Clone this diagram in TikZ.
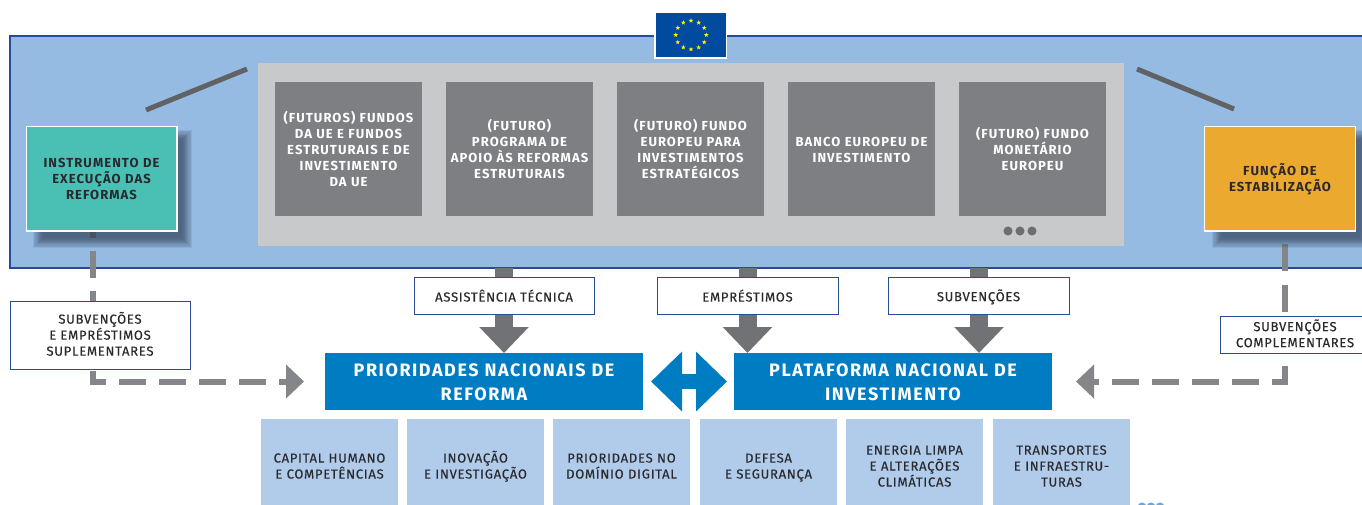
\documentclass[tikz,border=0pt]{standalone}
\usepackage{fontspec}
\usetikzlibrary{arrows.meta,shapes.geometric}
\newfontfamily\medfont[LetterSpace=5.5,FakeBold=0.3]{Fira Sans}
\newfontfamily\boldfont[LetterSpace=8]{Fira Sans Bold}
\newfontfamily\headfont[LetterSpace=8.6]{Fira Sans Bold}
\newcommand\capstrut{\rule[-2.6pt]{0pt}{12pt}}
\newcommand\lowstrut{\rule[-1.85pt]{0pt}{12pt}}
\newcommand\headstrut{\rule[-3.6pt]{0pt}{18pt}}
\definecolor{euborder}{HTML}{2C4A9A}
\definecolor{eufill}{HTML}{95BBE3}
\definecolor{panel}{HTML}{C8C9CB}
\definecolor{fundgrey}{HTML}{7E7F83}
\definecolor{dotgrey}{HTML}{6D6E71}
\definecolor{slash}{HTML}{616264}
\definecolor{teal}{HTML}{4ABFB4}
\definecolor{amber}{HTML}{EBA92F}
\definecolor{dashgrey}{HTML}{858689}
\definecolor{stemgrey}{HTML}{717276}
\definecolor{prio}{HTML}{007CC3}
\definecolor{lightblue}{HTML}{B1CCEA}
\definecolor{inktext}{HTML}{2A2A2E}
\definecolor{flagblue}{HTML}{004B9E}
\definecolor{shadowc}{HTML}{2E3C52}
\definecolor{moredots}{HTML}{6DA5DC}
\tikzset{
  basebox/.style={inner sep=0pt,outer sep=0pt,align=center},
  capped/.style={execute at begin node={\capstrut},execute at end node={\capstrut}},
  lowered/.style={execute at begin node={\lowstrut},execute at end node={\lowstrut}},
  fundbox/.style={basebox,lowered,fill=fundgrey,text=white,minimum width=110.25pt,minimum height=100.5pt,text width=110pt,font=\boldfont\fontsize{9.8}{12}\selectfont},
  instr/.style={basebox,capped,draw=white,line width=1pt,minimum width=113pt,minimum height=78.5pt,text width=110pt,text=inktext,font=\boldfont\fontsize{9.8}{12}\selectfont},
  lab/.style={basebox,lowered,fill=white,draw=euborder,line width=0.65pt,text=inktext,font=\medfont\fontsize{9.8}{12}\selectfont},
  head/.style={basebox,fill=prio,text=white,minimum width=238.5pt,minimum height=42.75pt,text width=232pt,font=\headfont\fontsize{13.5}{18}\selectfont,execute at begin node={\headstrut},execute at end node={\headstrut}},
  prioritybox/.style={basebox,capped,fill=lightblue,text=inktext,minimum width=102.75pt,minimum height=70.5pt,text width=102pt,font=\medfont\fontsize{9.8}{12}\selectfont},
  bigarrow/.style={stemgrey,line width=13.5pt,-{Triangle[length=19.5pt,width=36pt]}},
  dashline/.style={dashgrey,line width=4.5pt},
  slashline/.style={slash,line width=3.75pt},
  dotfill/.style={circle,inner sep=0pt,outer sep=0pt,minimum size=6.8pt,fill=#1},
  staricon/.style={star,star points=5,star point ratio=2.4,inner sep=0pt,minimum size=3.7pt,fill=yellow},
  softshadow/.style={fill=shadowc,fill opacity=0.11}
}
\begin{document}
\begin{tikzpicture}[x=0.75pt,y=-0.75pt]
\useasboundingbox (0,0) rectangle (1362,504);
\clip (0,0) rectangle (1362,504);
\fill[white] (0,0) rectangle (1362,504);

% EU frame
\node[basebox,fill=eufill,draw=euborder,line width=1.5pt,minimum width=1020pt,minimum height=174pt] (eu) at (690,152) {};
\node[basebox,fill=white,minimum width=54.75pt,minimum height=36pt] (flagback) at (690.5,35) {};
\node[basebox,fill=flagblue,minimum width=52.5pt,minimum height=33pt] (flag) at (691,35) {};
\foreach \i in {0,...,11}
  \node[staricon] (star\i) at ({691+15.3*cos(\i*30)},{35+14.3*sin(\i*30)}) {};

% panel
\node[basebox,fill=panel,minimum width=649.5pt,minimum height=137.25pt] (panel) at (691,154.5) {};
\node[fundbox] (f1) at (348.5,149) {(FUTUROS) FUNDOS\\DA UE E FUNDOS\\ESTRUTURAIS E DE\\INVESTIMENTO\\DA UE};
\node[fundbox] (f2) at (519.5,149) {(FUTURO)\\PROGRAMA DE\\APOIO ÀS REFORMAS\\ESTRUTURAIS};
\node[fundbox] (f3) at (690.5,149) {(FUTURO) FUNDO\\EUROPEU PARA\\INVESTIMENTOS\\ESTRATÉGICOS};
\node[fundbox] (f4) at (861.5,149) {BANCO EUROPEU DE\\INVESTIMENTO};
\node[fundbox] (f5) at (1032.5,149) {(FUTURO) FUNDO\\MONETÁRIO\\EUROPEU};
\node[dotfill=dotgrey] (d1) at (1008,231) {};
\node[dotfill=dotgrey] (d2) at (1020,231) {};
\node[dotfill=dotgrey] (d3) at (1032,231) {};

% slanted strokes
\coordinate (sl1) at (146,110);
\coordinate (sl2) at (247,69);
\coordinate (sr1) at (1137,69);
\coordinate (sr2) at (1234,109);
\draw[slashline] (sl1) -- (sl2);
\draw[slashline] (sr1) -- (sr2);

% heads (placed early so connectors can name them)
\node[head] (prionode) at (484,381.5) {PRIORIDADES NACIONAIS DE\\REFORMA};
\node[head] (plat) at (893,381.5) {PLATAFORMA NACIONAL DE\\INVESTIMENTO};

% dashed connectors
\coordinate (ltop) at (93,231);
\coordinate (lcornerend) at (93,384);
\coordinate (lstart) at (90,381.5);
\coordinate (rtop) at (1285,231);
\coordinate (rcornerend) at (1285,384);
\coordinate (rstart) at (1288,381.5);
\draw[dashline,dash pattern=on 20.25pt off 9.75pt,dash phase=15pt] (ltop) -- (lcornerend);
\draw[dashline,dash pattern=on 12pt off 9.75pt on 20.25pt off 9.75pt on 20.25pt off 9.75pt on 20.25pt off 9.75pt on 20.25pt off 9.75pt on 20pt off 0pt,-{Triangle[length=13.5pt,width=24.75pt]},shorten >=15.75pt] (lstart) -- (prionode.west);
\draw[dashline,dash pattern=on 20.25pt off 10.1pt,dash phase=20.25pt] (rtop) -- (rcornerend);
\draw[dashline,dash pattern=on 12pt off 9.75pt on 20.25pt off 9.75pt on 20.25pt off 9.75pt on 20.25pt off 9.75pt on 20.25pt off 9.75pt on 20pt off 0pt,-{Triangle[length=13.5pt,width=24.75pt]},shorten >=18pt] (rstart) -- (plat.east);

% soft shadows
\foreach \d in {0,...,8} {
  \fill[softshadow] ({33+\d*1.2},{130+\d*1.2}) rectangle ({192-\d*1.2},{248-\d*1.2});
  \fill[softshadow] ({1212+\d*1.2},{130+\d*1.2}) rectangle ({1371-\d*1.2},{248-\d*1.2});
}
\node[instr,fill=teal] (reforma) at (101.5,178.5) {INSTRUMENTO DE\\EXECUÇÃO DAS\\REFORMAS};
\node[instr,fill=amber] (estab) at (1280,178.5) {FUNÇÃO DE\\ESTABILIZAÇÃO};

% big arrows
\coordinate (a1) at (504,268);
\coordinate (a2) at (747.5,268);
\coordinate (a3) at (979,268);
\draw[bigarrow] (a1) -- (a1 |- prionode.north);
\draw[bigarrow] (a2) -- (a2 |- plat.north);
\draw[bigarrow] (a3) -- (a3 |- plat.north);

% labels
\node[lab,minimum width=135pt,minimum height=51pt] (lsub) at (100,335) {SUBVENÇÕES\\E EMPRÉSTIMOS\\SUPLEMENTARES};
\node[lab,minimum width=135pt,minimum height=27.75pt] (lat) at (504,296) {ASSISTÊNCIA TÉCNICA};
\node[lab,minimum width=135.75pt,minimum height=27.75pt] (lemp) at (747.5,296) {EMPRÉSTIMOS};
\node[lab,minimum width=135.75pt,minimum height=27.75pt] (lsv) at (978.5,296) {SUBVENÇÕES};
\node[lab,minimum width=112.5pt,minimum height=27.75pt,execute at begin node={\rule[-1.5pt]{0pt}{12pt}},execute at end node={\rule[-1.5pt]{0pt}{12pt}}] (lcomp) at (1295,334.5) {SUBVENÇÕES\\COMPLEMENTARES};

% two-way arrow
\draw[prio,line width=11.25pt,{Triangle[length=23.25pt,width=43.5pt]}-{Triangle[length=23.25pt,width=43.5pt]},shorten <=6pt,shorten >=5.25pt] (prionode.east) -- (plat.west);

% priority boxes
\node[prioritybox] (p1) at (329.5,466) {CAPITAL HUMANO\\E COMPETÊNCIAS};
\node[prioritybox] (p2) at (475.5,466) {INOVAÇÃO\\E INVESTIGAÇÃO};
\node[prioritybox] (p3) at (621.5,466) {PRIORIDADES NO\\DOMÍNIO DIGITAL};
\node[prioritybox] (p4) at (768.5,466) {DEFESA\\E SEGURANÇA};
\node[prioritybox] (p5) at (914.5,466) {ENERGIA LIMPA\\E ALTERAÇÕES\\CLIMÁTICAS};
\node[prioritybox] (p6) at (1061.5,466) {TRANSPORTES\\E INFRAESTRU-\\TURAS};
\node[dotfill=moredots] (m1) at (1142,507) {};
\node[dotfill=moredots] (m2) at (1151,507) {};
\node[dotfill=moredots] (m3) at (1160,507) {};
\end{tikzpicture}
\end{document}
